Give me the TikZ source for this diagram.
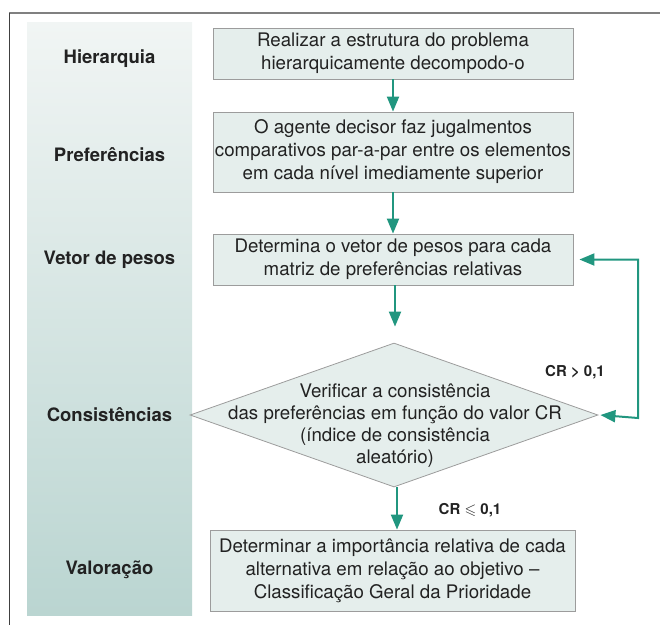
\documentclass[tikz,border=0pt]{standalone}
\usepackage{amssymb}
\usepackage{fontspec}
\setmainfont{TeX Gyre Heros}
\usetikzlibrary{shapes.geometric,arrows.meta}
\definecolor{teal1}{HTML}{21967F}
\definecolor{boxfill}{HTML}{E5EEEC}
\definecolor{boxline}{HTML}{9C9C9C}
\definecolor{txt}{HTML}{222222}
\definecolor{coltop}{HTML}{F1F5F4}
\definecolor{colbot}{HTML}{BAD5D1}
\begin{document}
\begin{tikzpicture}[x=1pt,y=-1pt,
  box/.style={draw=boxline, fill=boxfill, line width=0.8pt, minimum width=360pt, align=center, inner sep=0pt, font=\fontsize{18.7}{23}\selectfont, text=txt},
  lab/.style={font=\fontsize{18.5}{22}\selectfont\bfseries, text=txt, anchor=base},
  crl/.style={font=\fontsize{15}{18}\selectfont\bfseries, text=txt},
  arr/.style={draw=teal1, line width=2pt, -{Triangle[width=12pt,length=15pt]}},
  arrb/.style={draw=teal1, line width=2pt, {Triangle[width=12pt,length=15pt]}-{Triangle[width=12pt,length=15pt]}}
]
\useasboundingbox (0,0) rectangle (660,625);
\shade[top color=coltop, bottom color=colbot] (27,22) rectangle (192,615);
\draw[draw=black!50, line width=1.5pt] (9,13) -- (660,13);
\draw[draw=black!75, line width=1pt] (9,13) -- (9,625);

\node[lab] (l1) at (109.5,63) {Hierarquia};
\node[lab] (l2) at (109.5,161) {Preferências};
\node[lab] (l3) at (109.5,264) {Vetor de pesos};
\node[lab] (l4) at (109.5,421) {Consistências};
\node[lab] (l5) at (109.5,574) {Valoração};

\node[box, minimum height=51pt] (b1) at (393,53.5) {Realizar a estrutura do problema\\hierarquicamente decompodo-o};
\node[box, minimum height=80pt] (b2) at (393,152) {O agente decisor faz jugalmentos\\comparativos par-a-par entre os elementos\\em cada nível imediamente superior};
\node[box, minimum height=51pt] (b3) at (393,259.5) {Determina o vetor de pesos para cada\\matriz de preferências relativas};
\node[diamond, draw=boxline, fill=boxfill, line width=0.8pt, minimum width=408pt, minimum height=144pt, inner sep=0pt] (d) at (394,415) {};
\node[align=center, font=\fontsize{18.7}{22}\selectfont, text=txt] (dt) at (395,426) {Verificar a consistência\\das preferências em função do valor CR\\(índice de consistência\\aleatório)};
\node[box, minimum width=365pt, minimum height=81pt] (b5) at (392.5,570.5) {Determinar a importância relativa de cada\\alternativa em relação ao objetivo –\\Classificação Geral da Prioridade};

\node[crl] (cr1) at (575,372) {CR > 0,1};
\node[crl] (cr2) at (470,510) {CR $\leqslant$ 0,1};

\draw[arr] (b1) -- (b2);
\draw[arr] (b2) -- (b3);
\draw[arr] ([xshift=2pt]b3.south) -- ([xshift=2pt,yshift=16pt]b3.south |- d.north);
\draw[arr] ([xshift=3pt]d.south) -- ([xshift=3pt]d.south |- b5.north);
\coordinate (fb) at (638,418);
\draw[arrb] ([xshift=2pt]d.east) -- (fb) |- ([xshift=6pt]b3.east);
\end{tikzpicture}
\end{document}
